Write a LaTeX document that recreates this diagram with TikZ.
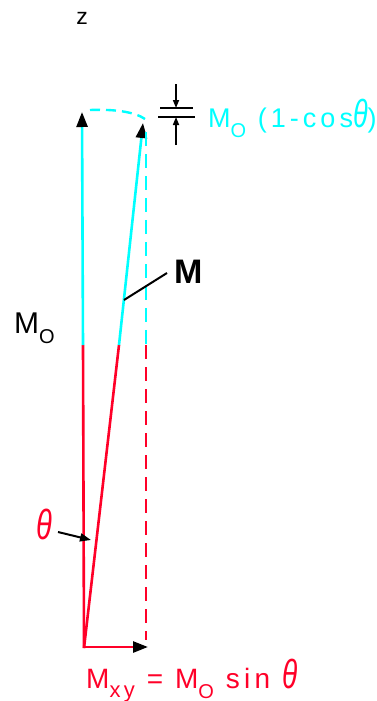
\documentclass[tikz,border=0pt]{standalone}
\usepackage{fontspec}
\setmainfont{Liberation Sans}
\usetikzlibrary{arrows.meta, positioning}
\usepackage{xcolor}
\definecolor{plotcyan}{RGB}{0,255,255}
\definecolor{plotred}{RGB}{255,0,40}
\newfontfamily\plotfont[LetterSpace=15]{Liberation Sans}
\newcommand{\subO}{\raisebox{-10pt}{\fontsize{20}{20}\selectfont O}}
\newcommand{\subXY}{\raisebox{-9pt}{\fontsize{22}{22}\selectfont xy}}
\newcommand{\plotth}{\scalebox{1}[1.45]{\itshape θ}}

\begin{document}
\begin{tikzpicture}[x=1pt, y=-1pt,
  vec/.style={line width=2.6pt},
  tip/.style={-{Triangle[length=15pt,width=11pt,black]}},
  small tip/.style={-{Triangle[length=8pt,width=6pt]}},
  guide/.style={line width=2.4pt, dash pattern=on 14pt off 8pt},
  leader/.style={line width=2pt, black},
  lbl/.style={inner sep=0pt, font=\plotfont\fontsize{27}{30}\selectfont}
]
\useasboundingbox (0,0) rectangle (376,701);

% points of the construction
\coordinate (O) at (84,648);
\coordinate (Ztip) at (82,112);
\coordinate (Zmid) at (83,345);
\coordinate (Mtip) at (143,123);
\coordinate (Mmid) at (119,345);
\coordinate (Mlead) at (124,300);
\coordinate (Dtop) at (146,132);
\coordinate (Dmid) at (146,345);
\coordinate (Dbot) at (146,640);
\coordinate (Xtip) at (148,647);
\coordinate (Astart) at (90,110);
\coordinate (Aend) at (145,119);

% vectors
\draw[vec, plotred] (O) -- (Zmid);
\draw[vec, plotcyan, tip] (Zmid) -- (Ztip);
\draw[vec, plotred] (O) -- (Mmid);
\draw[vec, plotcyan, tip] (Mmid) -- (Mtip);
\draw[vec, plotred, tip] (O |- Xtip) -- (Xtip);

% projection and arc
\draw[guide, plotcyan] (Dtop) -- (Dmid);
\draw[guide, plotred] (Dmid) -- (Dbot);
\draw[guide, plotcyan, dash pattern=on 10pt off 6pt] (Astart) .. controls (115,109) and (135,112) .. (Aend);

% gap marks
\coordinate (g1l) at (160,108); \coordinate (g1r) at (193,108);
\coordinate (g2l) at (158,117); \coordinate (g2r) at (195,117);
\draw[line width=2pt] (g1l) -- (g1r);
\draw[line width=2pt] (g2l) -- (g2r);
\draw[line width=1.6pt, small tip] (176,84) coordinate (a1) -- (176,108);
\draw[line width=1.6pt, small tip] (176,145) coordinate (a2) -- (176,117);

% labels
\node[lbl, font=\plotfont\fontsize{23}{26}\selectfont] (z) at (82,18) {z};
\node[lbl, plotcyan, anchor=base west] (gap) at (208,127) {M\subO\ (1-cos\plotth)};
\node[lbl, anchor=base west, font=\plotfont\bfseries\fontsize{34}{36}\selectfont] (M) at (174,283) {M};
\node[lbl, anchor=base west, font=\plotfont\fontsize{30}{32}\selectfont] (M0) at (14,333) {M\subO};
\node[lbl, plotred, font=\plotfont\fontsize{29}{30}\selectfont] (th) at (44,524) {\plotth};
\node[lbl, plotred, anchor=base west, font=\plotfont\fontsize{28}{30}\selectfont] (Mxy) at (86,688) {M\subXY\ = M\subO\ sin\ \plotth};

% leaders
\coordinate (Mend) at (167,273);
\draw[leader] (Mlead) -- (Mend);
\coordinate (thstart) at (58,532);
\coordinate (thend) at (91,540);
\draw[leader, -{Triangle[length=11pt,width=8pt]}] (thstart) -- (thend);
\end{tikzpicture}
\end{document}
